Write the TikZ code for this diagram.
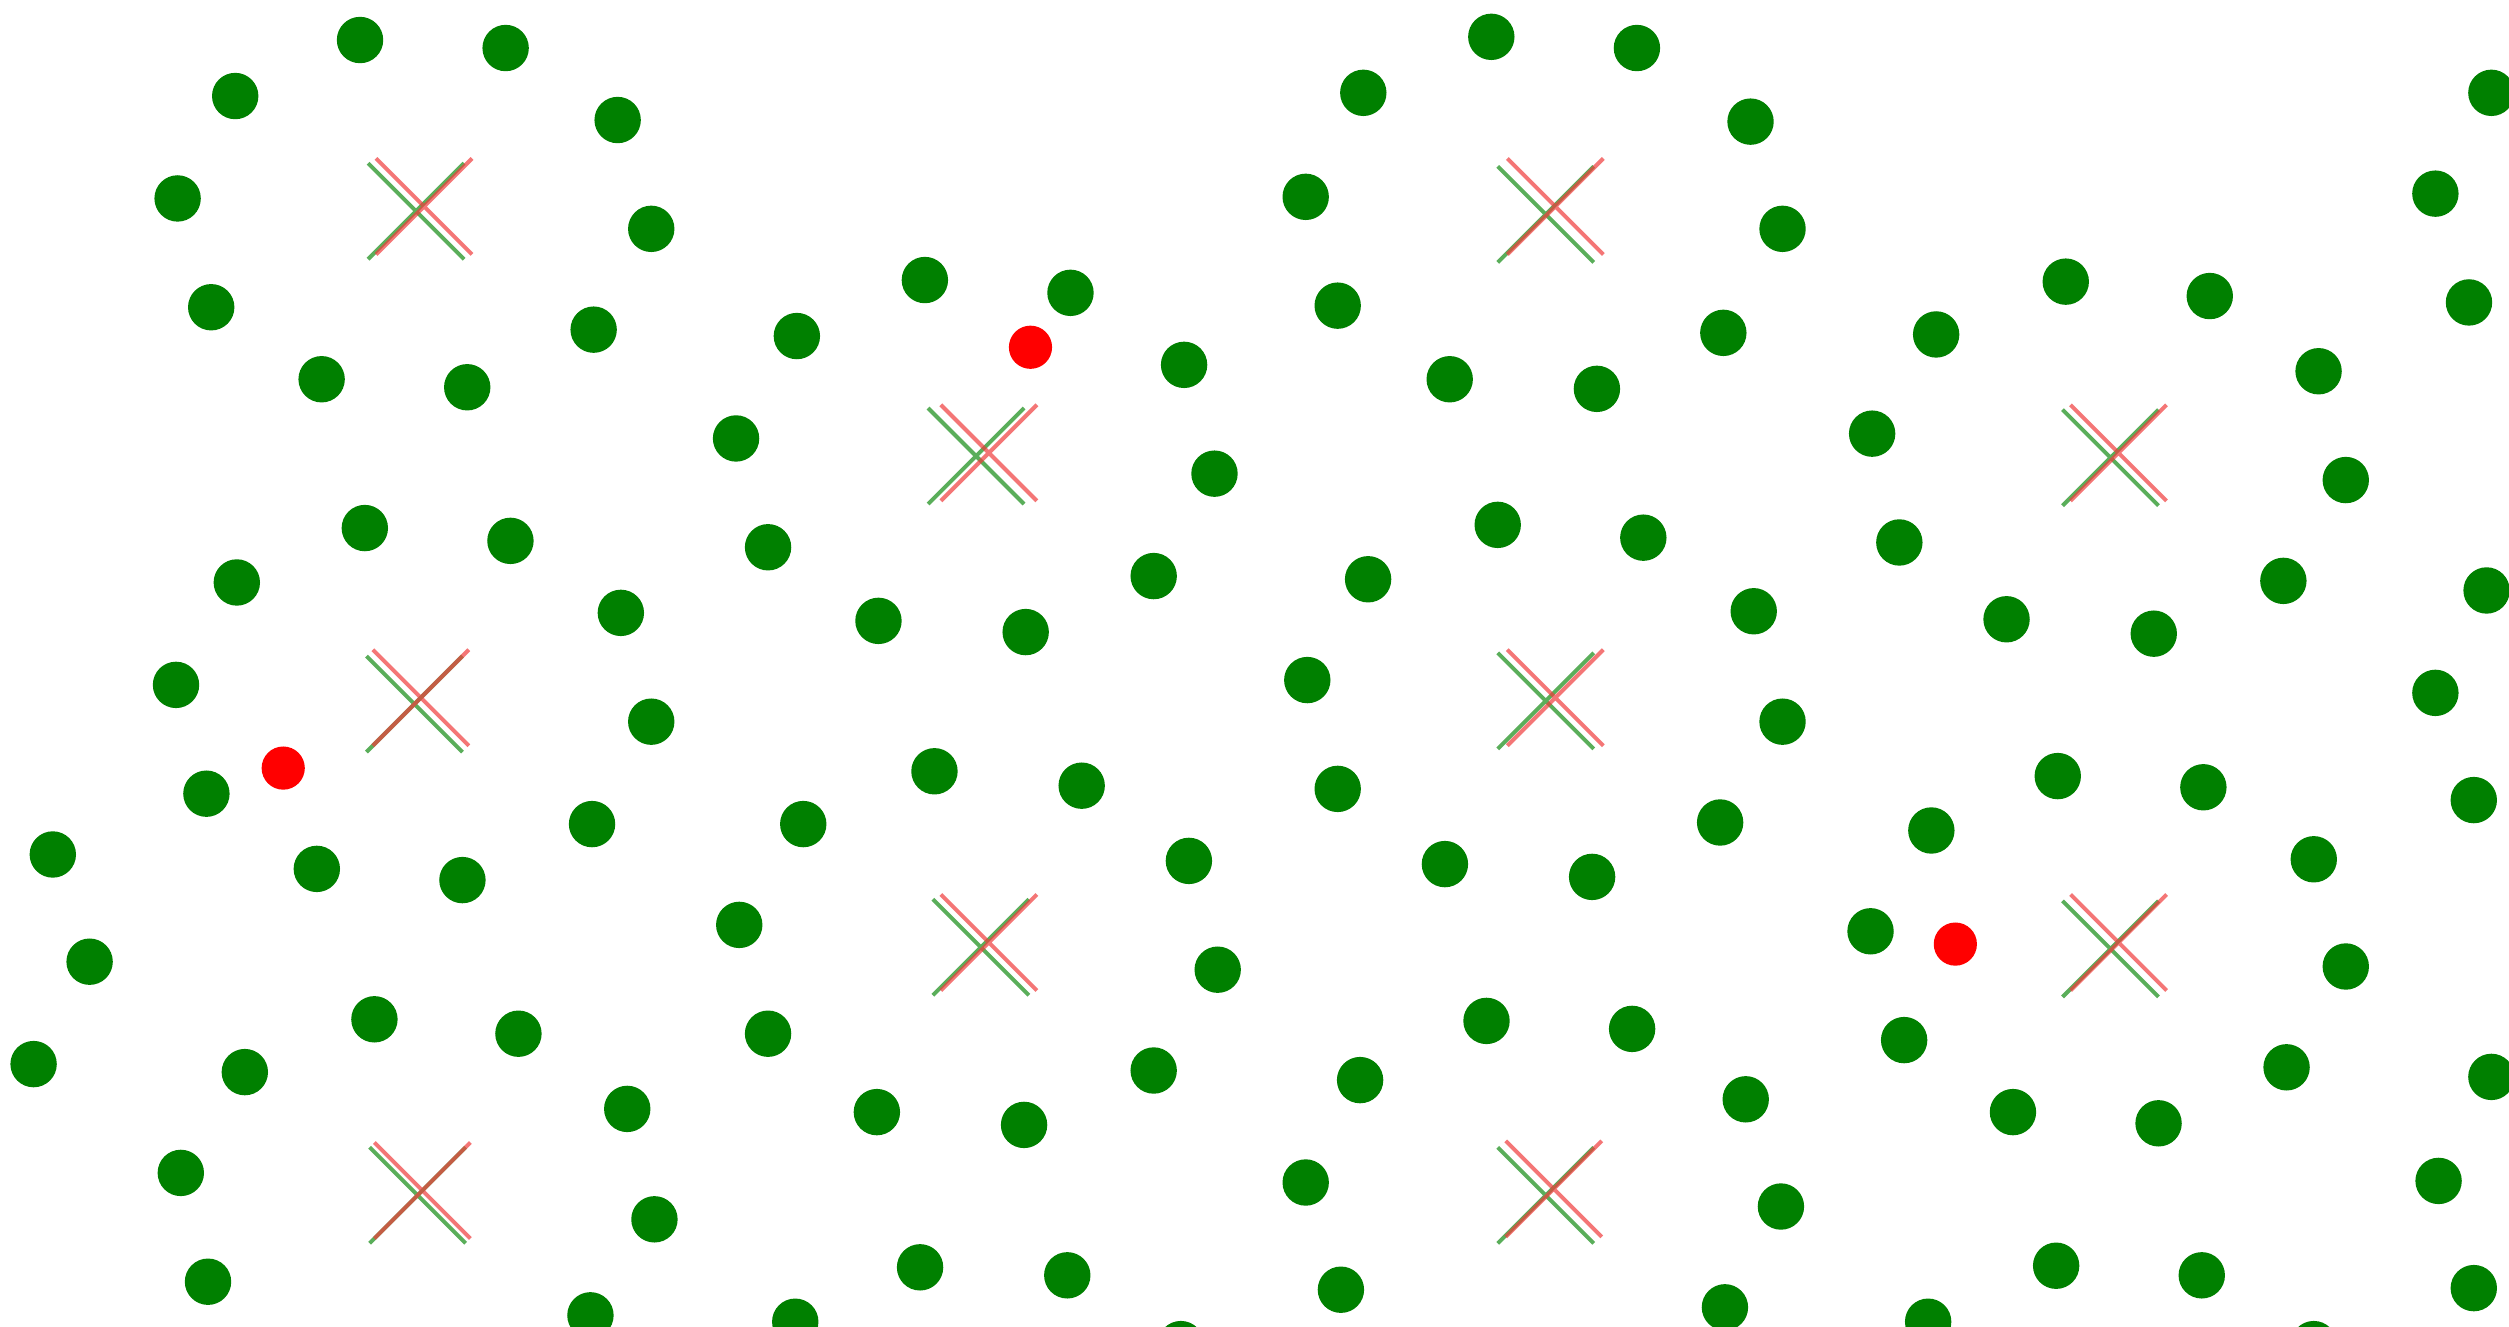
\documentclass[tikz,border=0pt]{standalone}
\usepackage{tikz}

\begin{document}
\begin{tikzpicture}[x=0.01cm, y=-0.01cm]
    \definecolor{mydot}{RGB}{0,128,0}
    \definecolor{myhit}{RGB}{255,0,0}
    \definecolor{mycrossg}{RGB}{20,140,20}
    \definecolor{mycrossr}{RGB}{240,60,60}
    
    \useasboundingbox (0,0) rectangle (1568,829);
    \clip (0,0) rectangle (1568,829);
    \fill[white] (0,0) rectangle (1568,829);
    
    % rings of green dots
    \fill[mydot] (225,25) circle (14.5) (316,30) circle (14.5) (386,75) circle (14.5) (407,143) circle (14.5) (371,206) circle (14.5)
        (292,242) circle (14.5) (201,237) circle (14.5) (132,192) circle (14.5) (111,124) circle (14.5) (147,60) circle (14.5);
    \fill[mydot] (578,175) circle (14.5) (669,183) circle (14.5) (740,228) circle (14.5) (759,296) circle (14.5) (721,360) circle (14.5)
        (641,395) circle (14.5) (549,388) circle (14.5) (480,342) circle (14.5) (460,274) circle (14.5) (498,210) circle (14.5);
    \fill[mydot] (932,23) circle (14.5) (1023,30) circle (14.5) (1094,76) circle (14.5) (1114,143) circle (14.5) (1077,208) circle (14.5)
        (998,243) circle (14.5) (906,237) circle (14.5) (836,191) circle (14.5) (816,123) circle (14.5) (852,58) circle (14.5);
    \fill[mydot] (1291,176) circle (14.5) (1381,185) circle (14.5) (1449,232) circle (14.5) (1466,300) circle (14.5) (1427,363) circle (14.5)
        (1346,396) circle (14.5) (1254,387) circle (14.5) (1187,339) circle (14.5) (1170,271) circle (14.5) (1210,209) circle (14.5);
    \fill[mydot] (228,330) circle (14.5) (319,338) circle (14.5) (388,383) circle (14.5) (407,451) circle (14.5) (370,515) circle (14.5)
        (289,550) circle (14.5) (198,543) circle (14.5) (129,496) circle (14.5) (110,428) circle (14.5) (148,364) circle (14.5);
    \fill[mydot] (584,482) circle (14.5) (676,491) circle (14.5) (743,538) circle (14.5) (761,606) circle (14.5) (721,669) circle (14.5)
        (640,703) circle (14.5) (548,695) circle (14.5) (480,646) circle (14.5) (462,578) circle (14.5) (502,515) circle (14.5);
    \fill[mydot] (936,328) circle (14.5) (1027,336) circle (14.5) (1096,382) circle (14.5) (1114,451) circle (14.5) (1075,514) circle (14.5)
        (995,548) circle (14.5) (903,540) circle (14.5) (836,493) circle (14.5) (817,425) circle (14.5) (855,362) circle (14.5);
    \fill[mydot] (1286,485) circle (14.5) (1377,492) circle (14.5) (1446,537) circle (14.5) (1466,604) circle (14.5) (1429,667) circle (14.5)
        (1349,702) circle (14.5) (1258,695) circle (14.5) (1190,650) circle (14.5) (1169,582) circle (14.5) (1207,519) circle (14.5);
    \fill[mydot] (234,637) circle (14.5) (324,646) circle (14.5) (392,693) circle (14.5) (409,762) circle (14.5) (369,822) circle (14.5)
        (130,801) circle (14.5) (113,733) circle (14.5) (153,670) circle (14.5);
    \fill[mydot] (929,638) circle (14.5) (1020,643) circle (14.5) (1091,687) circle (14.5) (1113,754) circle (14.5) (1078,817) circle (14.5)
        (838,806) circle (14.5) (816,739) circle (14.5) (850,675) circle (14.5);
    
    % cut at the edges
    \fill[mydot] (33,534) circle (14.5) (56,601) circle (14.5) (21,665) circle (14.5);
    \fill[mydot] (575,792) circle (14.5) (667,797) circle (14.5) (738,840) circle (14.5) (497,826) circle (14.5);
    \fill[mydot] (1285,791) circle (14.5) (1376,797) circle (14.5) (1446,840) circle (14.5) (1205,826) circle (14.5);
    \fill[mydot] (1557,58) circle (14.5) (1522,121) circle (14.5) (1543,189) circle (14.5)
        (1554,369) circle (14.5) (1522,433) circle (14.5) (1546,500) circle (14.5)
        (1557,673) circle (14.5) (1524,738) circle (14.5) (1546,805) circle (14.5);
    
    % red dots
    \fill[myhit] (644,217) circle (13.5) (177,480) circle (13.5) (1222,590) circle (13.5);
    
    % crosses, green then red
    \draw[mycrossg, opacity=0.7, line width=0.7pt]
        (260,132) ++(-30,-30) -- ++(60,60) (260,132) ++(-30,30) -- ++(60,-60)
        (610,285) ++(-30,-30) -- ++(60,60) (610,285) ++(-30,30) -- ++(60,-60)
        (966,134) ++(-30,-30) -- ++(60,60) (966,134) ++(-30,30) -- ++(60,-60)
        (1319,286) ++(-30,-30) -- ++(60,60) (1319,286) ++(-30,30) -- ++(60,-60)
        (259,440) ++(-30,-30) -- ++(60,60) (259,440) ++(-30,30) -- ++(60,-60)
        (613,592) ++(-30,-30) -- ++(60,60) (613,592) ++(-30,30) -- ++(60,-60)
        (966,438) ++(-30,-30) -- ++(60,60) (966,438) ++(-30,30) -- ++(60,-60)
        (1319,593) ++(-30,-30) -- ++(60,60) (1319,593) ++(-30,30) -- ++(60,-60)
        (261,747) ++(-30,-30) -- ++(60,60) (261,747) ++(-30,30) -- ++(60,-60)
        (966,747) ++(-30,-30) -- ++(60,60) (966,747) ++(-30,30) -- ++(60,-60);
    \draw[mycrossr, opacity=0.7, line width=0.7pt]
        (265,129) ++(-30,-30) -- ++(60,60) (265,129) ++(-30,30) -- ++(60,-60)
        (618,283) ++(-30,-30) -- ++(60,60) (618,283) ++(-30,30) -- ++(60,-60)
        (972,129) ++(-30,-30) -- ++(60,60) (972,129) ++(-30,30) -- ++(60,-60)
        (1324,283) ++(-30,-30) -- ++(60,60) (1324,283) ++(-30,30) -- ++(60,-60)
        (263,436) ++(-30,-30) -- ++(60,60) (263,436) ++(-30,30) -- ++(60,-60)
        (618,589) ++(-30,-30) -- ++(60,60) (618,589) ++(-30,30) -- ++(60,-60)
        (972,436) ++(-30,-30) -- ++(60,60) (972,436) ++(-30,30) -- ++(60,-60)
        (1324,589) ++(-30,-30) -- ++(60,60) (1324,589) ++(-30,30) -- ++(60,-60)
        (264,744) ++(-30,-30) -- ++(60,60) (264,744) ++(-30,30) -- ++(60,-60)
        (971,743) ++(-30,-30) -- ++(60,60) (971,743) ++(-30,30) -- ++(60,-60);
\end{tikzpicture}
\end{document}
